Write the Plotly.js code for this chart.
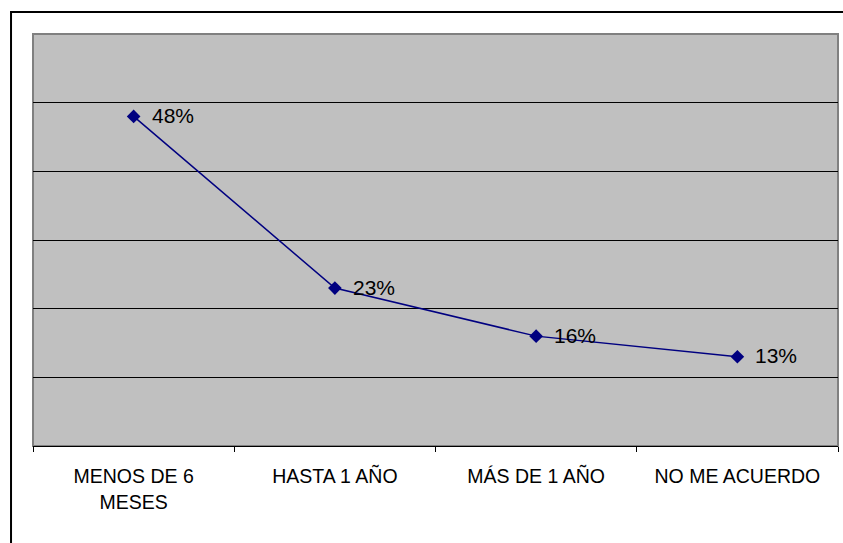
<!DOCTYPE html>
<html>
<head>
<meta charset="utf-8">
<script src="https://cdn.plot.ly/plotly-3.0.1.min.js"></script>
<style>
  html, body { margin: 0; padding: 0; background: #fff; }
  #chart { width: 843px; height: 543px; }
</style>
</head>
<body>
<div id="chart"></div>
<script>
const categories = ["MENOS DE 6<br>MESES", "HASTA 1 AÑO", "MÁS DE 1 AÑO", "NO ME ACUERDO"];
const values = [0.48, 0.23, 0.16, 0.13];
const labels = ["48%", "23%", "16%", "13%"];
const gridVals = [0.1, 0.2, 0.3, 0.4, 0.5];

const FONT = "Liberation Sans, Arial, sans-serif";

const trace = {
  type: "scatter",
  mode: "lines+markers",
  x: categories,
  y: values,
  line: { color: "#000080", width: 1.5 },
  marker: { symbol: "diamond", size: 10.5, color: "#000080" },
  cliponaxis: false,
  hoverinfo: "skip"
};

const annotations = categories.map((c, i) => ({
  x: c,
  y: values[i],
  xref: "x",
  yref: "y",
  text: labels[i],
  showarrow: false,
  xanchor: "left",
  yanchor: "middle",
  xshift: 16,
  yshift: 1,
  font: { family: FONT, size: 21, color: "#000" }
}));

const layout = {
  width: 843,
  height: 543,
  margin: { l: 33, r: 5, t: 34, b: 97, pad: 0 },
  paper_bgcolor: "#ffffff",
  plot_bgcolor: "#c0c0c0",
  showlegend: false,
  font: { family: FONT, size: 19.5, color: "#000" },
  xaxis: {
    type: "category",
    range: [-0.5, 3.5],
    showgrid: false,
    zeroline: false,
    showline: true,
    linecolor: "#000",
    linewidth: 1,
    ticks: "outside",
    tickson: "boundaries",
    ticklen: 5,
    tickcolor: "#000",
    tickwidth: 1,
    ticklabelstandoff: 13,
    tickfont: { family: FONT, size: 19.5, color: "#000" }
  },
  yaxis: {
    range: [0, 0.6],
    tickvals: gridVals,
    showticklabels: false,
    showgrid: true,
    gridcolor: "#000",
    gridwidth: 1,
    zeroline: false,
    showline: false,
    ticks: ""
  },
  annotations: annotations,
  shapes: [
    {
      type: "rect", xref: "paper", yref: "paper",
      x0: 0, x1: 1, y0: 0, y1: 1,
      line: { color: "#808080", width: 2 },
      layer: "below"
    },
    {
      type: "rect", xref: "paper", yref: "paper",
      x0: -0.0273, x1: 1.2, y0: -0.4, y1: 1.0534,
      line: { color: "#000", width: 2 }
    }
  ]
};

Plotly.newPlot("chart", [trace], layout, { staticPlot: true, displayModeBar: false });
</script>
</body>
</html>
